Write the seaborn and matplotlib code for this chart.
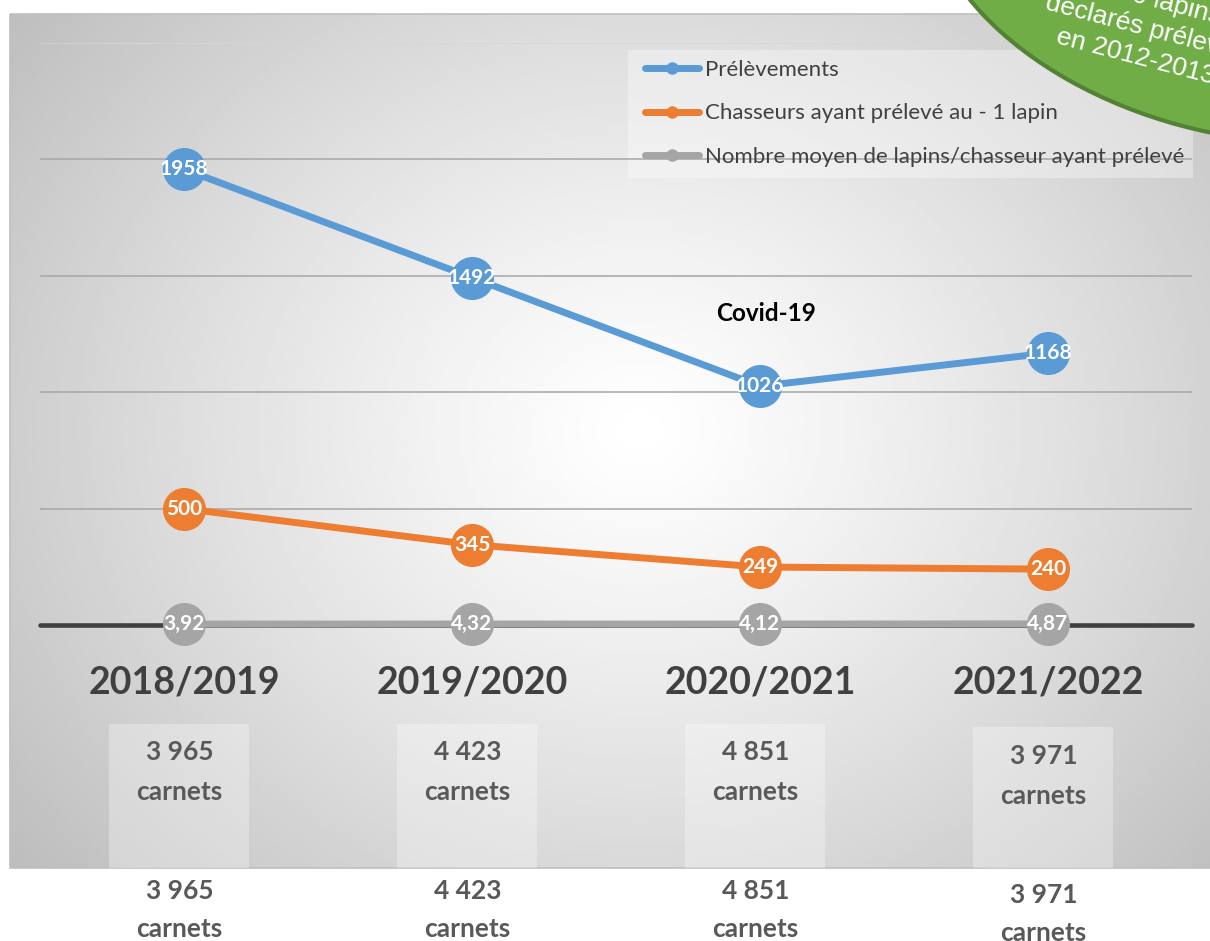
import numpy as np
import pandas as pd
import matplotlib
matplotlib.use("Agg")
import matplotlib.pyplot as plt
import matplotlib.transforms as mtransforms
from matplotlib.patches import Rectangle, Ellipse
from matplotlib.lines import Line2D
import seaborn as sns

# ---------------- data ----------------
saisons = ["2018/2019", "2019/2020", "2020/2021", "2021/2022"]
prelevements = [1958, 1492, 1026, 1168]
chasseurs = [500, 345, 249, 240]
moyenne = [3.92, 4.32, 4.12, 4.87]
series_names = ["Prélèvements",
                "Chasseurs ayant prélevé au - 1 lapin",
                "Nombre moyen de lapins/chasseur ayant prélevé"]
carnets = ["3 965", "4 423", "4 851", "3 971"]
bulle_lignes = ["4 000 lapins", "déclarés prélevés", "en 2012-2013"]
annotation = "Covid-19"

colors = ["#5B9BD5", "#ED7D31", "#A5A5A5"]

df = pd.DataFrame({
    "Saison": saisons * 3,
    "Série": [series_names[0]] * 4 + [series_names[1]] * 4 + [series_names[2]] * 4,
    "Valeur": prelevements + chasseurs + moyenne,
})

sns.set_style("white")
plt.rcParams["font.family"] = ["Lato", "DejaVu Sans"]

W, H = 1210, 941
fig = plt.figure(figsize=(W / 100, H / 100), dpi=100)
fig.patch.set_facecolor("white")

# background axes in pixel coords
bg = fig.add_axes([0, 0, 1, 1], zorder=0)
bg.set_xlim(0, W)
bg.set_ylim(H, 0)
bg.axis("off")

# radial gradient for chart area
x0, x1, y0, y1 = 10, W, 14, 868
xs = np.linspace(x0, x1, 600)
ys = np.linspace(y0, y1, 430)
XX, YY = np.meshgrid(xs, ys)
d = np.sqrt(((XX - 640) / 650) ** 2 + ((YY - 430) / 560) ** 2)
val = 1 - 0.20 * np.clip(d, 0, 1.25) ** 1.2
bg.imshow(val, cmap="gray", vmin=0, vmax=1, extent=(x0, x1, y1, y0),
          aspect="auto", interpolation="bilinear", zorder=0)
bg.add_patch(Rectangle((x0, y0), x1 - x0 + 5, y1 - y0, fill=False,
                       edgecolor="#bfbfbf", lw=1.2, zorder=1))

# legend background
bg.add_patch(Rectangle((628, 50), 565, 128, facecolor="white", alpha=0.35,
                       edgecolor="none", zorder=2))

# main axes
ax = fig.add_axes([40 / W, 1 - 625 / H, 1152 / W, 582 / H], zorder=1)
ax.patch.set_alpha(0)

sns.lineplot(data=df, x="Saison", y="Valeur", hue="Série", hue_order=series_names,
             palette=colors, marker="o", markersize=31, markeredgewidth=0,
             linewidth=5, legend=False, sort=False, ax=ax)
for ln in ax.lines:
    ln.set_clip_on(False)
    ln.set_solid_capstyle("butt")
    ln.set_zorder(3)

ax.set_xlim(-0.5, 3.5)
ax.set_ylim(0, 2500)
ax.set_yticks([500, 1000, 1500, 2000, 2500])
ax.yaxis.grid(True, color="#a6a6a6", lw=1.1)
ax.yaxis.get_gridlines()[-1].set_color("#d6d6d6")
ax.set_axisbelow(True)
ax.tick_params(axis="y", left=False, labelleft=False)
ax.tick_params(axis="x", bottom=False, length=0, pad=29, labelsize=27,
               labelcolor="#404040")
for lab in ax.get_xticklabels():
    lab.set_fontweight("bold")
ax.set_xlabel("")
ax.set_ylabel("")
for s in ax.spines.values():
    s.set_visible(False)
ax.axhline(0, color="#404040", lw=3.3, zorder=1.5, clip_on=False)

# data labels
for vals, fmt in [(prelevements, "{:d}"), (chasseurs, "{:d}"), (moyenne, "{:.2f}")]:
    for i, v in enumerate(vals):
        ax.text(i, v, fmt.format(v).replace(".", ","), ha="center", va="center",
                color="white", fontsize=15, fontweight="bold", zorder=5,
                clip_on=False)

ax.text(2.02, 1340, annotation, ha="center", va="center", fontsize=17.5,
        fontweight="bold", color="black")

# legend
handles = [Line2D([0], [0], color=c, lw=5, marker="o", markersize=9,
                  markeredgewidth=0, solid_capstyle="round") for c in colors]
leg = ax.legend(handles, series_names, loc="upper left",
                bbox_to_anchor=(645 / W, 1 - 60 / H), bbox_transform=fig.transFigure,
                frameon=False, fontsize=16, handlelength=2.45, handletextpad=0.25,
                labelspacing=1.05, borderpad=0, borderaxespad=0,
                labelcolor="#404040")

# carnets boxes and texts
blend = mtransforms.blended_transform_factory(ax.transData, bg.transData)
carnet_dy = [0, 0, 0, 4]
for i, c in enumerate(carnets):
    bg.add_patch(Rectangle((i - 0.26, 724 + carnet_dy[i] * 0.75), 0.487,
                           868 - 724 - carnet_dy[i] * 0.75, transform=blend,
                           facecolor="white", alpha=0.3, edgecolor="none", zorder=2))
    for yy, txt in [(752, c), (792, "carnets"), (891, c), (929, "carnets")]:
        bg.text(i - 0.016, yy + carnet_dy[i], txt, transform=blend, ha="center",
                va="center", fontsize=19, fontweight="bold", color="#595959",
                zorder=3)

# green bubble (top right)
fg = fig.add_axes([0, 0, 1, 1], zorder=5)
fg.set_xlim(0, W)
fg.set_ylim(H, 0)
fg.axis("off")
fg.patch.set_alpha(0)
fg.add_patch(Ellipse((1230, -58), 620, 380, angle=15, facecolor="#70AD47",
                     edgecolor="#548235", lw=3, zorder=1))
for (cx, cy), t in zip([(1150, 6), (1144, 35.5), (1134, 64)], bulle_lignes):
    fg.text(cx, cy, t, rotation=-14.6, rotation_mode="anchor", ha="center",
            va="baseline", fontsize=19, color="white", family="Liberation Sans",
            zorder=2)

fig.savefig("out.png", dpi=100)
